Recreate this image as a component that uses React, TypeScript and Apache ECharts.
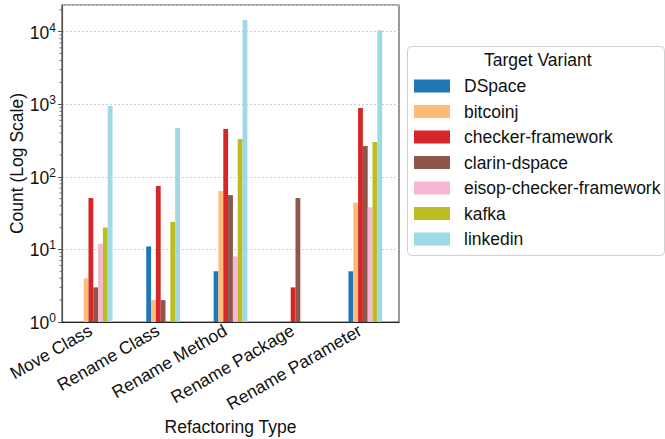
import React, { useEffect, useRef } from "react";
import * as echarts from "echarts";

const categories = ["Move Class", "Rename Class", "Rename Method", "Rename Package", "Rename Parameter"];
const variants = ["DSpace", "bitcoinj", "checker-framework", "clarin-dspace", "eisop-checker-framework", "kafka", "linkedin"];
const colors = ["#1f77b4", "#ffbb78", "#d62728", "#8c564b", "#f7b6d2", "#bcbd22", "#9edae5"];

const dspace = [null, 11, 5, null, 5];
const bitcoinj = [4, 2, 64, null, 44];
const checkerFramework = [51, 75, 455, 3, 887];
const clarinDspace = [3, 2, 56, 51, 266];
const eisopCheckerFramework = [12, null, 8, null, 38];
const kafka = [20, 24, 332, null, 301];
const linkedin = [945, 470, 14450, null, 10500];

const seriesValues = [dspace, bitcoinj, checkerFramework, clarinDspace, eisopCheckerFramework, kafka, linkedin];

const yMin = 1;
const yMax = 23300;
const minorTickValues: number[] = [];
for (let e = 0; e <= 4; e++) {
  for (let m = 2; m <= 9; m++) {
    const v = m * Math.pow(10, e);
    if (v < yMax) minorTickValues.push(v);
  }
}

const FONT = "Liberation Sans, Arial, Helvetica, sans-serif";
const FS = 17.5;

export default function App() {
  const ref = useRef<HTMLDivElement>(null);
  useEffect(() => {
    document.body.style.margin = "0";
    const chart = echarts.init(ref.current!, null, { renderer: "svg" });
    const barSeries = variants.map((name, i) => ({
      name,
      type: "bar",
      data: seriesValues[i],
      itemStyle: { color: colors[i] },
      barGap: "0%",
      barCategoryGap: "50%",
    }));
    chart.setOption({
      animation: false,
      textStyle: { fontFamily: FONT },
      grid: {
        left: 62,
        top: 5,
        right: 266,
        bottom: 117,
        show: true,
        borderColor: "#555",
        borderWidth: 1.2,
        backgroundColor: "transparent",
        outerBoundsMode: "none",
        containLabel: false,
      },
      xAxis: {
        type: "category",
        data: categories,
        name: "Refactoring Type",
        nameLocation: "middle",
        nameGap: 96,
        nameMoveOverlap: false,
        nameTextStyle: { fontSize: FS, color: "#111", fontFamily: FONT },
        axisLine: { lineStyle: { color: "#222", width: 1.2 } },
        axisTick: { alignWithLabel: true, length: 4, lineStyle: { color: "#222" } },
        axisLabel: {
          rotate: 30,
          fontSize: FS,
          color: "#111",
          margin: 4,
          interval: 0,
          fontFamily: FONT,
          padding: [0, 6, 0, 0],
        },
      },
      yAxis: {
        type: "log",
        logBase: 10,
        min: yMin,
        max: yMax,
        name: "Count (Log Scale)",
        nameLocation: "middle",
        nameRotate: 90,
        nameGap: 36,
        nameMoveOverlap: false,
        nameTextStyle: { fontSize: FS, color: "#111", fontFamily: FONT },
        axisLine: { show: true, lineStyle: { color: "#555", width: 1.2 } },
        axisTick: { show: true, length: 4, lineStyle: { color: "#555" } },
        splitLine: { show: true, lineStyle: { color: "#ccc", type: [2, 2], width: 1 } },
        axisLabel: {
          showMaxLabel: false,
          margin: 6,
          formatter: (v: number) => `{b|10}{s|${Math.round(Math.log10(v))}}`,
          rich: {
            b: { fontSize: FS, color: "#111", fontFamily: FONT, lineHeight: 20, verticalAlign: "bottom" },
            s: { fontSize: 12, color: "#111", fontFamily: FONT, lineHeight: 20, verticalAlign: "top" },
          },
        },
      },
      legend: {
        data: variants,
        orient: "vertical",
        left: 407,
        top: 46,
        padding: [31, 8, 10, 7],
        itemWidth: 36,
        itemHeight: 13,
        itemGap: 7.5,
        icon: "rect",
        selectedMode: false,
        textStyle: { fontSize: FS, color: "#111", fontFamily: FONT, padding: [0, 0, 0, 9], lineHeight: 13 },
      },
      graphic: [
        {
          type: "rect",
          left: 407,
          top: 46,
          shape: { width: 257, height: 209, r: 4 },
          style: { fill: "#fff", stroke: "#d0d0d0", lineWidth: 1 },
          z: -1,
          silent: true,
        },
        {
          type: "text",
          left: 484,
          top: 51,
          style: { text: "Target Variant", fontSize: FS, fill: "#111", fontFamily: FONT },
          silent: true,
        },
      ],
      series: [
        ...barSeries,
        {
          type: "custom",
          silent: true,
          clip: false,
          data: minorTickValues.map((v) => [0, v]),
          renderItem: (params: any, api: any) => {
            const pt = api.coord([0, api.value(1)]);
            const x0 = params.coordSys.x;
            return {
              type: "line",
              shape: { x1: x0 - 2.5, y1: pt[1], x2: x0, y2: pt[1] },
              style: { stroke: "#555", lineWidth: 0.8 },
            };
          },
        },
      ],
    });
    return () => chart.dispose();
  }, []);
  return <div ref={ref} style={{ width: 665, height: 439 }} />;
}
